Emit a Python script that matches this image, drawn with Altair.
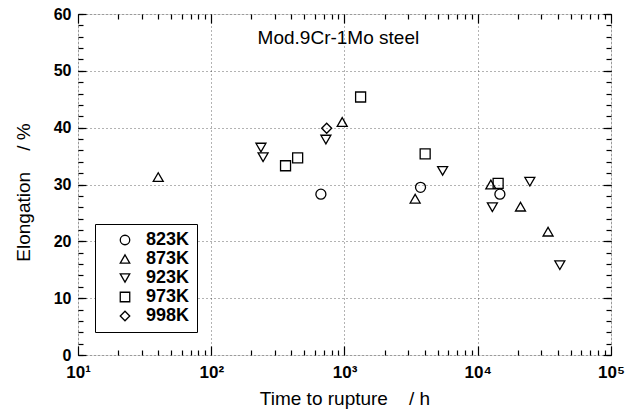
import altair as alt
import pandas as pd

# ---- data ----
temps = ["823K", "873K", "923K", "973K", "998K"]
shapes = ["circle", "triangle-up", "triangle-down", "square", "diamond"]

t_823 = [665, 3720, 14660]
e_823 = [28.3, 29.5, 28.3]

t_873 = [40, 961, 3390, 12540, 20930, 33700]
e_873 = [31.3, 41.0, 27.5, 30.0, 26.1, 21.7]

t_923 = [236, 245, 725, 5450, 12880, 24600, 41300]
e_923 = [36.5, 34.8, 37.9, 32.4, 26.0, 30.5, 15.8]

t_973 = [361, 445, 1321, 4030, 14220]
e_973 = [33.3, 34.7, 45.4, 35.4, 30.2]

t_998 = [735]
e_998 = [39.9]

x_major = [10, 100, 1000, 10000, 100000]
x_minor = [m * d for d in [10, 100, 1000, 10000] for m in range(2, 10)]
y_major = [0, 10, 20, 30, 40, 50, 60]
y_minor = list(range(0, 61, 2))

rows = []
for lab, ts, es in [("823K", t_823, e_823), ("873K", t_873, e_873),
                    ("923K", t_923, e_923), ("973K", t_973, e_973),
                    ("998K", t_998, e_998)]:
    for t, e in zip(ts, es):
        rows.append({"t": t, "e": e, "temp": lab})
df = pd.DataFrame(rows)

FONT = "Liberation Sans"
NB = "\u00a0"
xscale = alt.Scale(type="log", domain=[10, 100000], nice=False)
yscale = alt.Scale(domain=[0, 60], nice=False, zero=False)

sup = "datum.value == 10 ? '10\u00b9' : datum.value == 100 ? '10\u00b2' : datum.value == 1000 ? '10\u00b3' : datum.value == 10000 ? '10\u2074' : '10\u2075'"

base = alt.Chart(df)

points = base.mark_point(filled=False, size=100, strokeWidth=1.3, color="black", opacity=1).encode(
    x=alt.X("t:Q", scale=xscale, axis=alt.Axis(
        values=x_major, labelExpr=sup, ticks=False, grid=True,
        gridDash=[1, 3], gridColor="black", gridOpacity=0.6, gridWidth=1,
        domain=False, labelFont=FONT, labelFontSize=17, labelFontWeight="bold",
        labelColor="black", labelPadding=9, labelFlush=False,
        title="Time to rupture" + NB * 4 + "/ h", titleFont=FONT, titleFontSize=19,
        titleFontWeight="normal", titleColor="black", titlePadding=9)),
    y=alt.Y("e:Q", scale=yscale, axis=alt.Axis(
        values=y_major, ticks=False, grid=True,
        gridDash=[1, 3], gridColor="black", gridOpacity=0.6, gridWidth=1,
        domain=False, labelFont=FONT, labelFontSize=16, labelFontWeight="bold",
        labelColor="black", labelPadding=7, labelFlush=False,
        title="Elongation" + NB * 4 + "/ %", titleFont=FONT, titleFontSize=19,
        titleFontWeight="normal", titleColor="black", titlePadding=20, titleY=178)),
    shape=alt.Shape("temp:N", scale=alt.Scale(domain=temps, range=shapes),
                    legend=alt.Legend(title=None, orient="none", legendX=17, legendY=210,
                                      strokeColor="black", fillColor="white", padding=7,
                                      labelFont=FONT, labelFontSize=18, labelFontWeight="bold",
                                      labelColor="black", symbolSize=90, symbolStrokeWidth=1.3,
                                      symbolStrokeColor="black", symbolFillColor="transparent",
                                      rowPadding=1, labelOffset=12, symbolOffset=14)),
)


def tick_layer(xvals, xorient, xsize, yvals, yorient, ysize):
    return base.mark_point(opacity=0).encode(
        x=alt.X("t:Q", scale=xscale, axis=alt.Axis(
            orient=xorient, values=xvals, labels=False, domain=False, grid=False,
            ticks=True, tickSize=xsize, tickColor="black", tickWidth=1.2,
            offset=-xsize, title=None)),
        y=alt.Y("e:Q", scale=yscale, axis=alt.Axis(
            orient=yorient, values=yvals, labels=False, domain=False, grid=False,
            ticks=True, tickSize=ysize, tickColor="black", tickWidth=1.2,
            offset=-ysize, title=None)),
    )


t1 = tick_layer(x_major, "bottom", 9, y_major, "left", 8)
t2 = tick_layer(x_minor, "bottom", 5, y_minor, "left", 5)
t3 = tick_layer(x_major, "top", 9, y_major, "right", 8)
t4 = tick_layer(x_minor, "top", 5, y_minor, "right", 5)

label_df = pd.DataFrame({"t": [900], "e": [55.7], "txt": ["Mod.9Cr-1Mo steel"]})
title = alt.Chart(label_df).mark_text(font=FONT, fontSize=19, fontWeight="normal",
                                       color="black", align="center", baseline="middle").encode(
    x=alt.X("t:Q", scale=xscale, axis=None), y=alt.Y("e:Q", scale=yscale, axis=None), text="txt:N")

chart = alt.layer(points, t1, t2, t3, t4, title).resolve_axis(
    x="independent", y="independent"
).properties(
    width=533, height=341,
    autosize=alt.AutoSizeParams(type="none"),
    padding={"left": 70, "top": 6, "right": 14, "bottom": 54},
).configure_view(stroke="black", strokeWidth=1.5).configure(background="white")

chart.save("out.html", embed_options={"renderer": "svg", "actions": False})
